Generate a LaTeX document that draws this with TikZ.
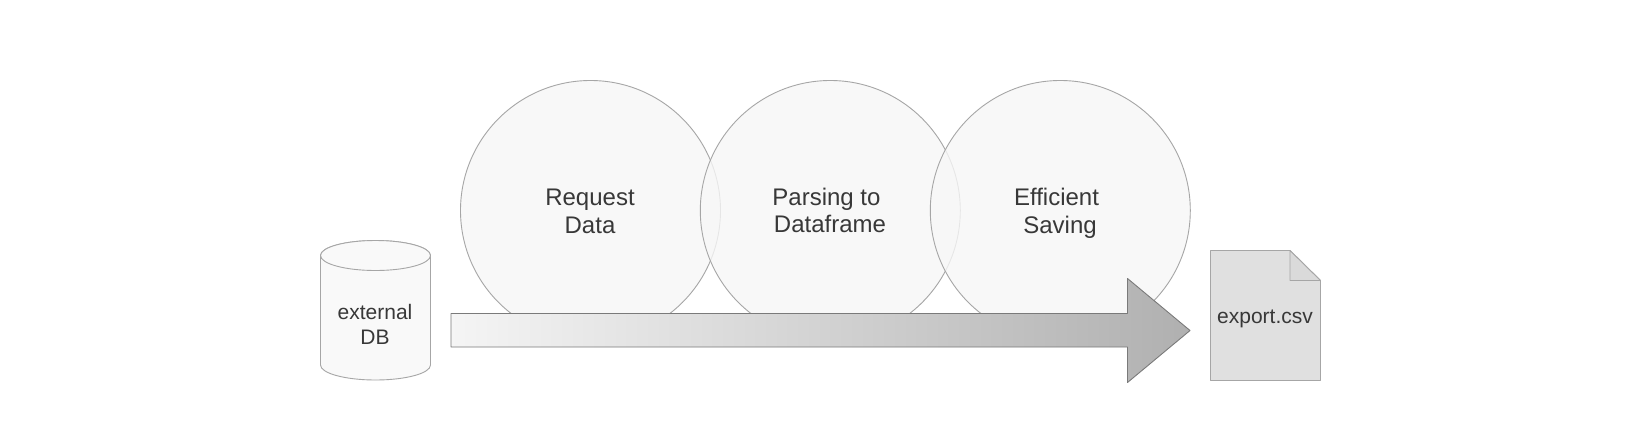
\documentclass[tikz,border=0pt]{standalone}
\usepackage{fontspec}
\setmainfont{Liberation Sans}
\definecolor{ink}{HTML}{383838}
\definecolor{edge}{HTML}{A6A6A6}
\definecolor{soft}{HTML}{F9F9F9}
\definecolor{circfill}{HTML}{F7F7F7}
\definecolor{docfill}{HTML}{E0E0E0}
\definecolor{foldfill}{HTML}{DADADA}
\definecolor{arrowedge}{HTML}{7A7A7A}
\tikzset{
  x=1pt,y=-1pt,
  circ/.style={circle,draw=edge,fill=circfill,fill opacity=.8,draw opacity=1,line width=.9pt,minimum size=260pt,inner sep=0pt},
  bigtxt/.style={text=ink,font=\fontsize{24}{27.7}\selectfont,align=center,inner sep=0pt},
  smalltxt/.style={text=ink,font=\fontsize{21}{25}\selectfont,align=center,inner sep=0pt},
  outl/.style={draw=edge,line width=.9pt,line join=round},
}
\begin{document}
\begin{tikzpicture}
\useasboundingbox (0,0) rectangle (1652,432);
\fill[white] (0,0) rectangle (1652,432);
\node[circ] (c1) at (590.5,210.5) {};
\node[circ] (c2) at (830.3,210.5) {};
\node[circ] (c3) at (1060.3,210.5) {};
\node[bigtxt] (t1) at (590,211.5) {Request\\Data};
\node[bigtxt] (t2) at (830,210.5) {Parsing to\hspace*{7pt}\\Dataframe};
\node[bigtxt] (t3) at (1060,213.5) {Efficient\hspace*{7pt}\\Saving};
% cylinder
\path[outl,fill=soft] (320.5,255.5) arc[x radius=55,y radius=15,start angle=180,end angle=360] -- (430.5,365)
  arc[x radius=55,y radius=15,start angle=0,end angle=180] -- cycle;
\path[outl,fill=soft] (375.5,255.5) ellipse[x radius=55,y radius=15];
\node[smalltxt] (db) at (375,324) {external\\DB};
% arrow: shading first, then its outline on top
\path[left color=black!4,right color=black!31]
  (451,313.5) -- (1127.5,313.5) -- (1127.5,278.5) -- (1190,330.5) -- (1127.5,382.5) -- (1127.5,347) -- (451,347) -- cycle;
\draw[outl,draw=arrowedge]
  (451,313.5) -- (1127.5,313.5) -- (1127.5,278.5) -- (1190,330.5) -- (1127.5,382.5) -- (1127.5,347) -- (451,347) -- cycle;
% document
\path[outl,fill=docfill] (1210.5,250.5) -- (1290,250.5) -- (1320.5,280.5) -- (1320.5,380.5) -- (1210.5,380.5) -- cycle;
\path[outl,fill=foldfill] (1290,250.5) -- (1290,280.5) -- (1320.5,280.5) -- cycle;
\node[smalltxt] (csv) at (1265,319) {export.csv};
\end{tikzpicture}
\end{document}
